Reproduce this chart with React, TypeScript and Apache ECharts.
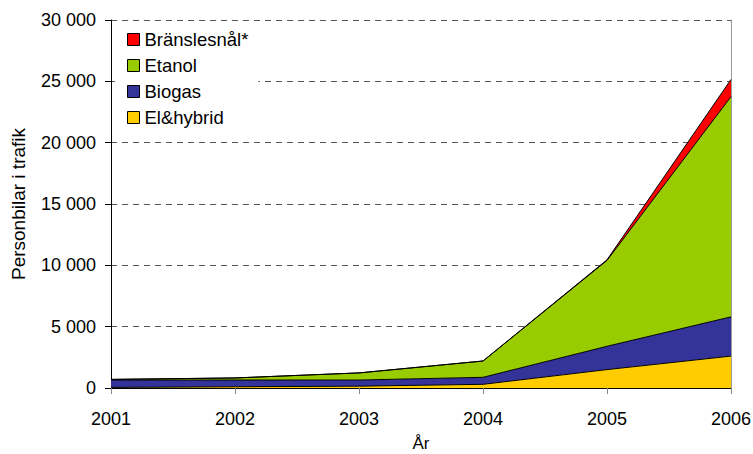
import React, { useEffect, useRef } from "react";
import * as echarts from "echarts";

const years = ["2001", "2002", "2003", "2004", "2005", "2006"];
const elHybrid = [50, 100, 150, 300, 1500, 2600];
const biogas = [600, 550, 500, 570, 1900, 3200];
const etanol = [50, 170, 580, 1330, 7000, 17950];
const bransle = [0, 0, 0, 0, 50, 1400];
const yTicks = [0, 5000, 10000, 15000, 20000, 25000, 30000];

const fmt = (v: number) => String(v).replace(/\B(?=(\d{3})+(?!\d))/g, " ");

export default function App() {
  const ref = useRef<HTMLDivElement>(null);
  useEffect(() => {
    const chart = echarts.init(ref.current!, null, { renderer: "svg" });
    const font = "'Liberation Sans', Arial, sans-serif";
    const mk = (name: string, data: number[], color: string) => ({
      name,
      type: "line",
      stack: "total",
      data,
      symbol: "none",
      lineStyle: { color: "#000", width: 1 },
      itemStyle: { color },
      areaStyle: { color, opacity: 1 },
    });
    chart.setOption({
      animation: false,
      textStyle: { fontFamily: font },
      grid: { left: 111, right: 22, top: 20, bottom: 66, outerBoundsMode: "none", containLabel: false },
      legend: {
        orient: "vertical",
        left: 115,
        top: 26,
        data: ["Bränslesnål*", "Etanol", "Biogas", "El&hybrid"],
        itemWidth: 12,
        itemHeight: 12,
        itemGap: 7,
        icon: "rect",
        backgroundColor: "#fff",
        padding: [4, 10, 4, 12],
        itemStyle: { borderColor: "#000", borderWidth: 1 },
        textStyle: { fontSize: 18.5, color: "#000", fontFamily: font },
      },
      xAxis: {
        type: "category",
        data: years,
        boundaryGap: false,
        name: "År",
        nameLocation: "middle",
        nameGap: 47,
        nameTextStyle: { fontSize: 17, color: "#000", lineHeight: 17 },
        axisLine: { lineStyle: { color: "#000" } },
        axisTick: { show: true, length: 6, lineStyle: { color: "#888" } },
        axisLabel: { fontSize: 18, color: "#000", margin: 22 },
        splitLine: { show: false },
      },
      yAxis: [
        {
          type: "value",
          min: 0,
          max: 30000,
          interval: 5000,
          name: "Personbilar i trafik",
          nameLocation: "middle",
          nameGap: 83,
          nameTextStyle: { fontSize: 19, color: "#000" },
          axisLine: { show: true, lineStyle: { color: "#000" } },
          axisTick: { show: true, length: 6, lineStyle: { color: "#000" } },
          axisLabel: {
            fontSize: 18,
            color: "#000",
            margin: 15,
            formatter: (v: number) => (yTicks.includes(v) ? fmt(v) : ""),
          },
          splitLine: { show: true, lineStyle: { color: "#555", type: [6, 5], width: 1 } },
        },
        {
          type: "value",
          min: 0,
          max: 30000,
          interval: 5000,
          position: "right",
          axisLine: { show: true, lineStyle: { color: "#999" } },
          axisTick: { show: false },
          axisLabel: { show: false },
          splitLine: { show: false },
        },
      ],
      series: [
        mk("El&hybrid", elHybrid, "#FFCC00"),
        mk("Biogas", biogas, "#333399"),
        mk("Etanol", etanol, "#99CC00"),
        mk("Bränslesnål*", bransle, "#FF0000"),
      ],
    });
    return () => chart.dispose();
  }, []);
  return (
    <div
      ref={ref}
      style={{ position: "fixed", left: 0, top: 0, width: 753, height: 454, background: "#fff" }}
    />
  );
}
